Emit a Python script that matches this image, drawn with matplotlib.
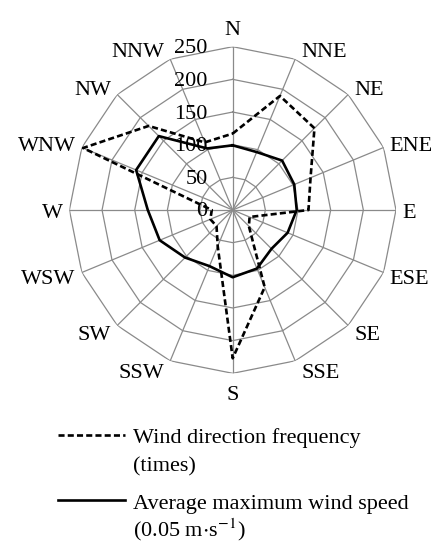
import matplotlib
matplotlib.use('Agg')
import matplotlib.pyplot as plt
from matplotlib.lines import Line2D
import numpy as np

plt.rcParams['font.family'] = ['Liberation Serif', 'DejaVu Serif']
plt.rcParams['mathtext.fontset'] = 'stix'
plt.rcParams['font.size'] = 16

# compass directions, clockwise from north
directions = ['N', 'NNE', 'NE', 'ENE', 'E', 'ESE', 'SE', 'SSE',
              'S', 'SSW', 'SW', 'WSW', 'W', 'WNW', 'NW', 'NNW']
# wind direction frequency (times)
frequency = [117, 189, 177, 129, 116, 28, 35, 128,
             227, 60, 35, 37, 32, 248, 182, 112]
# average maximum wind speed (0.05 m/s)
max_speed = [99, 96, 107, 102, 98, 91, 84, 97,
             103, 93, 103, 121, 130, 160, 160, 102]
rings = [0, 50, 100, 150, 200, 250]
legend_lines = [['Wind direction frequency', '(times)'],
                ['Average maximum wind speed', r'(0.05 m$\cdot$s$^{-1}$)']]

W, H = 442, 550
px = 0.72  # points per pixel at dpi 100
fig = plt.figure(figsize=(W / 100, H / 100), dpi=100)

# centre of the chart and radius of the outer ring, in pixels
cx, cy, R = 232.7, 210, 163.3
ax = fig.add_axes([(cx - R) / W, 1 - (cy + R) / H, 2 * R / W, 2 * R / H],
                  projection='polar')
ax.set_theta_zero_location('N')
ax.set_theta_direction(-1)
ax.set_ylim(0, rings[-1])
ax.axis('off')

n = len(directions)
theta = np.arange(n) * 2 * np.pi / n
tc = np.append(theta, theta[0])

grid = '#8a8a8a'
# polygon grid and spokes
for r in rings[1:]:
    ax.plot(tc, [r] * (n + 1), color=grid, lw=0.9, zorder=1)
for t in theta:
    ax.plot([t, t], [0, rings[-1]], color=grid, lw=0.9, zorder=1)

# series
ax.plot(tc, frequency + frequency[:1], color='black', lw=1.9,
        linestyle=(0, (2.3, 1.2)), zorder=3)
ax.plot(tc, max_speed + max_speed[:1], color='black', lw=1.9, zorder=3)

# radial tick labels, left of the north spoke
for r in rings:
    ax.annotate(str(r), xy=(0, r), xytext=(-25 * px, -6.5 * px),
                textcoords='offset points', ha='right', va='baseline',
                zorder=2)

# direction labels next to the outer vertices
for t, name in zip(theta, directions):
    s, c = np.sin(t), np.cos(t)
    if abs(s) < 1e-6:
        ha, dx = 'center', 0
        dy = 7.5 - 19.5 * np.sign(c)
    else:
        ha = 'left' if s > 0 else 'right'
        dx = 6 * np.sign(s)
        dy = 7.5 - 10 * c
    ax.annotate(name, xy=(t, rings[-1]), xytext=(dx * px, -dy * px),
                textcoords='offset points', ha=ha, va='baseline',
                annotation_clip=False)

# legend drawn below the chart
styles = [(0, (2.3, 1.2)), '-']
line_y = [435, 500]
for ls, ly, texts in zip(styles, line_y, legend_lines):
    fig.add_artist(Line2D([58 / W, 125 / W], [1 - ly / H, 1 - ly / H],
                          transform=fig.transFigure, color='black',
                          lw=1.9, linestyle=ls))
    for k, txt in enumerate(texts):
        fig.text(133 / W, 1 - (ly + 8.5 + k * 28) / H, txt,
                 ha='left', va='baseline')

fig.savefig('out.png', dpi=100)
